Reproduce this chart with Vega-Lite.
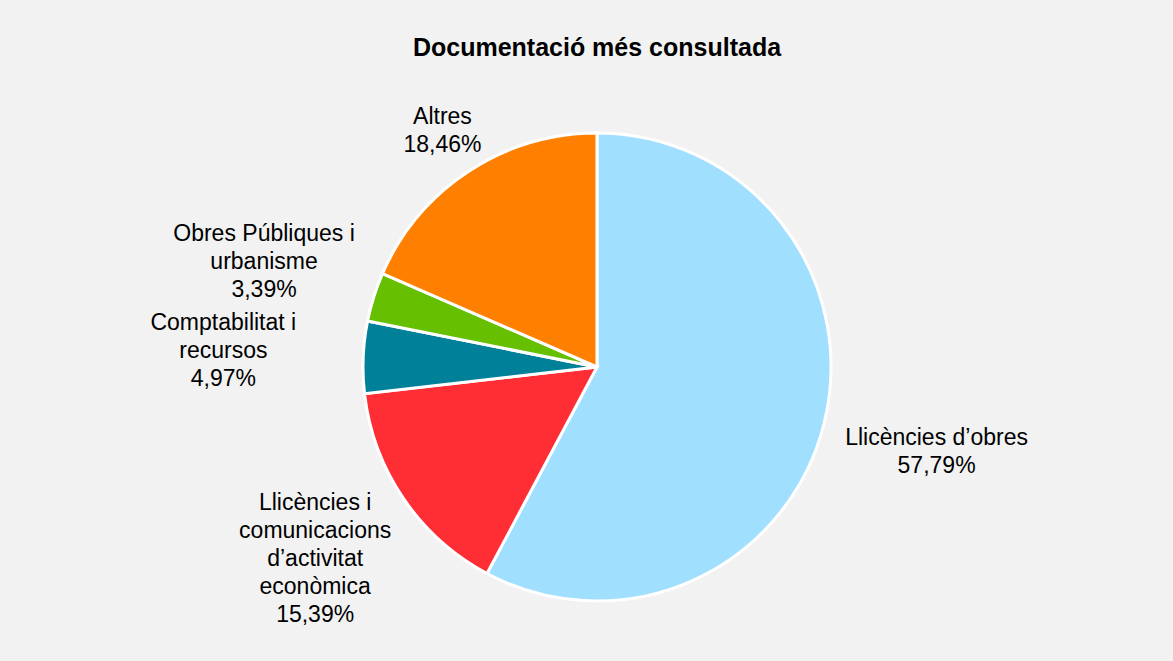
{
  "$schema": "https://vega.github.io/schema/vega-lite/v6.json",
  "width": 1152,
  "height": 588,
  "autosize": {"type": "none"},
  "padding": {"left": 21, "top": 73, "right": 0, "bottom": 0},
  "background": "#f2f2f2",
  "config": {"view": {"stroke": null}, "font": "Liberation Sans"},
  "title": {
    "text": "Documentació més consultada",
    "fontSize": 25,
    "fontWeight": "bold",
    "font": "Liberation Sans",
    "color": "#000000",
    "anchor": "middle",
    "frame": "group",
    "baseline": "alphabetic",
    "offset": -8
  },
  "data": {
    "values": [
      {"order": 1, "category": "Llicències d’obres", "value": 57.79, "label": ["Llicències d’obres", "57,79%"]},
      {"order": 2, "category": "Llicències i comunicacions d’activitat econòmica", "value": 15.39, "label": ["Llicències i", "comunicacions", "d’activitat", "econòmica", "15,39%"]},
      {"order": 3, "category": "Comptabilitat i recursos", "value": 4.97, "label": ["Comptabilitat i", "recursos", "4,97%"]},
      {"order": 4, "category": "Obres Públiques i urbanisme", "value": 3.39, "label": ["Obres Públiques i", "urbanisme", "3,39%"]},
      {"order": 5, "category": "Altres", "value": 18.46, "label": ["Altres", "18,46%"]}
    ]
  },
  "transform": [
    {"stack": "value", "sort": [{"field": "order", "order": "ascending"}], "groupby": [], "as": ["v_start", "v_end"]},
    {"calculate": "(datum.v_start + datum.v_end) / 2", "as": "v_mid"}
  ],
  "layer": [
    {
      "mark": {"type": "arc", "outerRadius": 234, "stroke": "white", "strokeWidth": 3},
      "encoding": {
        "theta": {"field": "v_start", "type": "quantitative", "scale": {"domain": [0, 100]}},
        "theta2": {"field": "v_end"},
        "color": {
          "field": "category",
          "type": "nominal",
          "scale": {
            "domain": ["Llicències d’obres", "Llicències i comunicacions d’activitat econòmica", "Comptabilitat i recursos", "Obres Públiques i urbanisme", "Altres"],
            "range": ["#a1dfff", "#ff2e34", "#008099", "#66bf00", "#ff8000"]
          },
          "legend": null
        }
      }
    },
    {
      "mark": {
        "type": "text",
        "fontSize": 23,
        "align": "center",
        "baseline": "middle",
        "lineHeight": 28,
        "color": "#000000",
        "radius": {"expr": "[350, 341, 374, 349, 282][datum.order - 1]"},
        "dy": {"expr": "-(length(datum.label) - 1) * 14"}
      },
      "encoding": {
        "theta": {"field": "v_mid", "type": "quantitative", "scale": {"domain": [0, 100]}},
        "text": {"field": "label"}
      }
    }
  ]
}
